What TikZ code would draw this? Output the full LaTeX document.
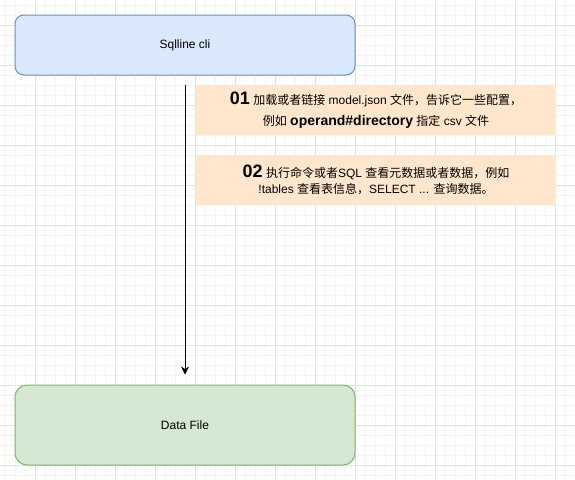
\documentclass[tikz,border=0pt]{standalone}
\usepackage{fontspec}
\setmainfont{Liberation Sans}
\newfontfamily\cjk{Noto Sans CJK SC}
\usetikzlibrary{arrows.meta}
\definecolor{clifill}{HTML}{DAE8FC}
\definecolor{clidraw}{HTML}{6C8EBF}
\definecolor{filefill}{HTML}{D5E8D4}
\definecolor{filedraw}{HTML}{82B366}
\definecolor{notefill}{HTML}{FFE6CC}
\definecolor{gridmajor}{HTML}{E2E2E2}
\definecolor{gridminor}{HTML}{F4F4F4}
\newcommand{\stepno}[1]{{\fontsize{13.5}{15}\bfseries #1}}

\begin{document}
\begin{tikzpicture}[x=0.75pt, y=-0.75pt,
		box/.style={rectangle, draw, line width=0.75pt, minimum width=255pt, font=\fontsize{9}{11}\selectfont},
		note/.style={rectangle, fill=notefill, minimum width=270pt, minimum height=37.5pt, align=center, inner sep=0pt}]
	\useasboundingbox (0,0) rectangle (575,479);
	% background grid
	\foreach \i in {5,15,...,575} \draw[gridminor, line width=0.5pt] (\i,0) -- (\i,479);
	\foreach \i in {5,15,...,475} \draw[gridminor, line width=0.5pt] (0,\i) -- (575,\i);
	\foreach \i in {35,75,...,555} \draw[gridmajor, line width=0.5pt] (\i,0) -- (\i,479);
	\foreach \i in {25,65,...,465} \draw[gridmajor, line width=0.5pt] (0,\i) -- (575,\i);

	\node (cli) [box, draw=clidraw, fill=clifill, minimum height=45pt, rounded corners=6.75pt] at (185,45) {Sqlline cli};
	\node (file) [box, draw=filedraw, fill=filefill, minimum height=60pt, rounded corners=9pt] at (185,425) {Data File};

	\node (load) [note, font=\fontsize{9}{15.75}\selectfont] at (376,110)
		{\stepno{01} {\cjk 加载或者链接} model.json {\cjk 文件，告诉它一些配置，}\\
		{\cjk 例如} {\fontsize{10.5}{12}\bfseries operand\#directory} {\cjk 指定} csv {\cjk 文件}};
	\node (query) [note, font=\fontsize{9}{12}\selectfont] at (376,180)
		{\stepno{02} {\cjk 执行命令或者}SQL {\cjk 查看元数据或者数据，例如}\\
		!tables {\cjk 查看表信息，}SELECT ... {\cjk 查询数据。}};

	\coordinate (start) at (185,85);
	\draw[-{Stealth[length=6pt, width=6pt]}, line width=0.75pt] (start) -- ([yshift=7.5pt]file.north);
\end{tikzpicture}
\end{document}
